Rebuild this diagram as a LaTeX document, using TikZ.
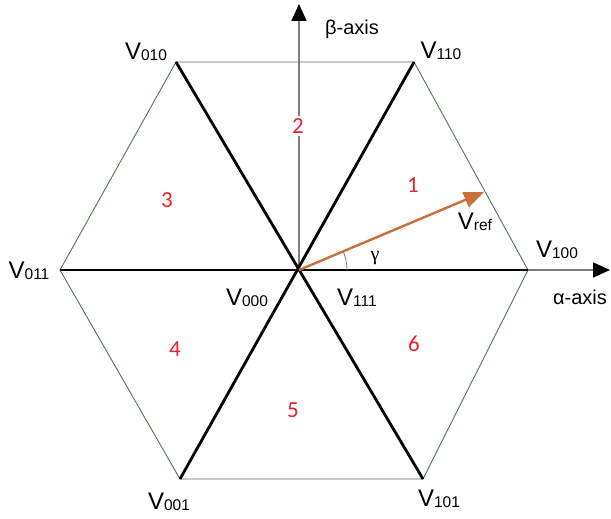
\documentclass[tikz,border=0pt]{standalone}
\usepackage{fontspec}
\setmainfont{Liberation Sans}
\newfontfamily\numfont{Carlito}
\newfontfamily\greekserif{Liberation Serif}
\usepackage{tikz}
\usetikzlibrary{arrows.meta,positioning,calc}
\usepackage{xcolor}
\definecolor{hexgreen}{RGB}{85,115,85}
\definecolor{axisgrey}{RGB}{125,125,125}
\definecolor{refbrown}{RGB}{200,112,58}
\definecolor{secred}{RGB}{238,32,42}
\newcommand{\vname}[1]{V\raisebox{-1pt}{\fontsize{15.5}{15.5}\selectfont #1}}

\begin{document}
\begin{tikzpicture}[x=1pt, y=-1pt,
    vlabel/.style={font=\fontsize{24}{24}\selectfont, inner sep=0pt},
    axlabel/.style={font=\fontsize{20}{20}\selectfont, inner sep=0pt},
    sector/.style={font=\numfont\fontsize{23}{23}\selectfont, text=secred,
                   inner sep=1pt},
    hexside/.style={draw=hexgreen, line width=0.9pt},
    spoke/.style={draw=black, line width=2.8pt},
    axis/.style={draw=axisgrey, line width=1.8pt,
                 -{Triangle[length=17pt, width=15pt, color=black]}},
    ref_arrow/.style={draw=refbrown, line width=2.4pt,
                      -{Triangle[length=20pt, width=16pt]}}
  ]
  \useasboundingbox (0,0) rectangle (611,519);

  % Hexagon corners and origin
  \coordinate (origin) at (299,270);
  \coordinate (v100) at (528,270);
  \coordinate (v110) at (414,62);
  \coordinate (v010) at (176,62);
  \coordinate (v011) at (60,270);
  \coordinate (v001) at (180,479);
  \coordinate (v101) at (423,479);
  \coordinate (alpha_end) at (610,270);
  \coordinate (beta_end) at (299,4);
  \coordinate (ref_end) at (484,192);

  % Axes
  \draw[axis] (origin) -- (alpha_end);
  \draw[axis] (origin) -- (beta_end);

  % Hexagon outline
  \draw[hexside] (v100) -- (v110) -- (v010) -- (v011) -- (v001) -- (v101) -- cycle;

  % Spokes through the origin
  \draw[spoke] (v011) -- (v100);
  \draw[spoke] (v010) -- (v101);
  \draw[spoke] (v110) -- (v001);

  % Reference vector and angle
  \draw[ref_arrow] (origin) -- (ref_end);
  \draw[axisgrey, line width=0.8pt] ($(origin)+(48,0)$) arc[start angle=0, end angle=-22.7, radius=48];

  % Vector labels
  \node[vlabel] (lbl100) at (557,250) {\vname{100}};
  \node[vlabel] (lbl110) at (441,51) {\vname{110}};
  \node[vlabel] (lbl010) at (146,52) {\vname{010}};
  \node[vlabel] (lbl011) at (29,271) {\vname{011}};
  \node[vlabel] (lbl001) at (169,502) {\vname{001}};
  \node[vlabel] (lbl101) at (439,499) {\vname{101}};
  \node[vlabel] (lbl000) at (247,298) {\vname{000}};
  \node[vlabel] (lbl111) at (357,298) {\vname{111}};
  \node[vlabel] (lblref) at (475,222) {V\raisebox{-1pt}{\fontsize{15.5}{15.5}\selectfont ref}};
  \node[axlabel] (gamma) at (375,258) {\greekserif γ};

  % Axis labels
  \node[axlabel] (alpha_lbl) at (580,297) {α-axis};
  \node[axlabel] (beta_lbl) at (352,29) {β-axis};

  % Sector numbers
  \node[sector] (sec1) at (413,185) {1};
  \node[sector, fill=white, inner ysep=3pt] (sec2) at (298,126) {2};
  \node[sector] (sec3) at (167,200) {3};
  \node[sector] (sec4) at (175,349) {4};
  \node[sector] (sec5) at (293,410) {5};
  \node[sector] (sec6) at (414,344) {6};

\end{tikzpicture}
\end{document}
